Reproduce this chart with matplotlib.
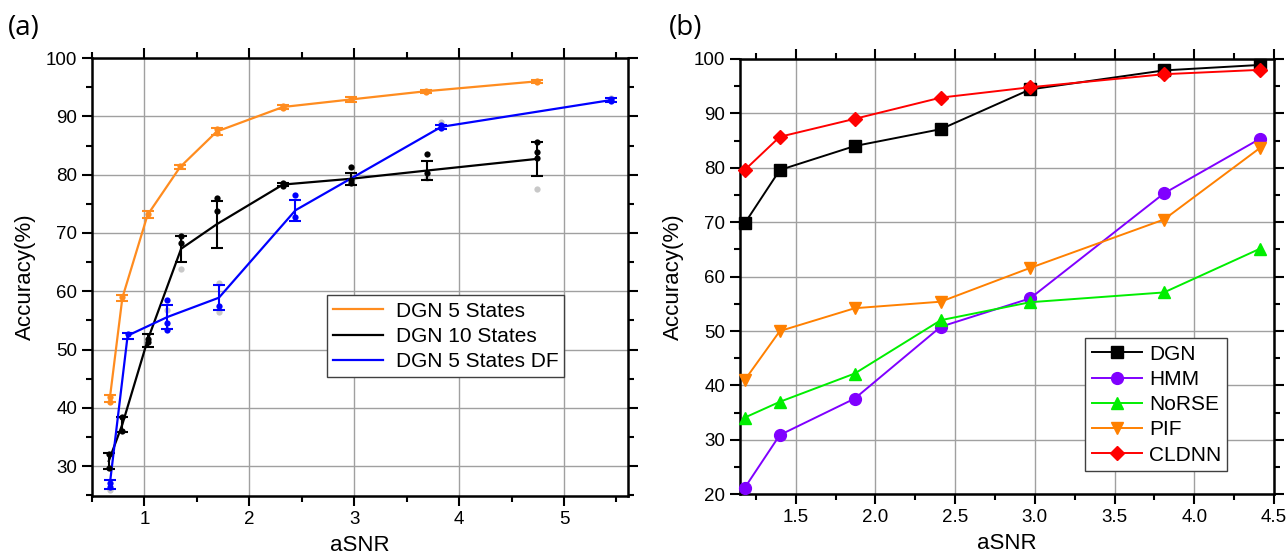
import numpy as np
import matplotlib.pyplot as plt
from matplotlib.ticker import MultipleLocator, FormatStrFormatter

plt.rcParams['font.family'] = ['Liberation Sans', 'DejaVu Sans']

# ---- panel (a): DGN variants, mean + error bars + individual runs ----
snr_5 = [0.67, 0.79, 1.03, 1.34, 1.69, 2.32, 2.97, 3.68, 4.74]
acc_5 = [41.6, 58.9, 73.1, 81.3, 87.4, 91.6, 92.9, 94.3, 96.0]
err_5 = [0.6, 0.5, 0.6, 0.4, 0.6, 0.4, 0.4, 0.3, 0.3]
runs_5 = [[41.9, 41.0], [59.0], [73.3], [81.4], [87.9, 87.2],
          [91.8, 91.4], [92.9], [94.4, 94.1], [96.1, 95.9]]
faded_5 = [[], [], [], [], [], [], [], [], []]

snr_10 = [0.66, 0.79, 1.03, 1.35, 1.69, 2.32, 2.97, 3.69, 4.74]
acc_10 = [30.9, 37.2, 51.6, 67.3, 71.5, 78.3, 79.3, 80.7, 82.7]
err_10 = [1.35, 1.3, 1.1, 2.2, 4.0, 0.3, 1.0, 1.7, 2.9]
runs_10 = [[32.1, 29.7], [38.4, 36.0], [51.3, 51.9], [69.4, 68.2],
           [76.0, 73.8], [78.6, 78.1], [81.3, 78.5, 79.0], [83.5, 80.2],
           [85.6, 83.9, 82.9]]
faded_10 = [[], [], [], [63.9], [], [], [], [79.4], [77.6]]

snr_df = [0.67, 0.84, 1.22, 1.71, 2.44, 3.83, 5.45]
acc_df = [26.9, 52.4, 55.6, 58.9, 73.9, 88.2, 92.8]
err_df = [0.8, 0.5, 2.0, 2.1, 1.8, 0.4, 0.3]
runs_df = [[27.1, 26.5], [52.6], [58.5, 54.6, 53.4], [57.5],
           [76.5, 72.8], [88.5, 88.0], [92.9, 92.6]]
faded_df = [[26.0], [], [56.8], [56.5, 61.5], [], [89.0], [93.2]]

# ---- panel (b): method comparison ----
snr_b = [1.18, 1.40, 1.87, 2.41, 2.97, 3.81, 4.41]
dgn = [69.8, 79.6, 84.0, 87.1, 94.4, 97.9, 98.9]
hmm = [21.2, 30.9, 37.6, 50.8, 56.0, 75.3, 85.3]
norse = [34.1, 37.0, 42.2, 52.0, 55.3, 57.1, 65.1]
pif = [41.0, 50.0, 54.2, 55.4, 61.6, 70.5, 83.6]
cldnn = [79.6, 85.7, 89.0, 92.9, 94.8, 97.2, 98.0]

orange_a = '#ff8c1f'


def style_axes(ax):
    for s in ax.spines.values():
        s.set_linewidth(1.8)
    ax.tick_params(which='both', direction='out', top=True, right=True,
                   labeltop=False, labelright=False, width=1.5, labelsize=13.5)
    ax.tick_params(which='major', length=7)
    ax.tick_params(which='minor', length=4)
    ax.grid(True, which='major', color='#a0a0a0', linewidth=1)
    ax.set_axisbelow(True)
    ax.set_xlabel('aSNR', fontsize=16, labelpad=5)
    ax.set_ylabel('Accuracy(%)', fontsize=16, labelpad=7)


fig = plt.figure(figsize=(12.88, 5.59), dpi=100)
ax1 = fig.add_axes([0.0714, 0.1127, 0.4162, 0.7835])
ax2 = fig.add_axes([0.5745, 0.1157, 0.4146, 0.7788])

series_a = [
    (snr_5, acc_5, err_5, runs_5, faded_5, orange_a, 'DGN 5 States'),
    (snr_10, acc_10, err_10, runs_10, faded_10, 'black', 'DGN 10 States'),
    (snr_df, acc_df, err_df, runs_df, faded_df, '#0000ff', 'DGN 5 States DF'),
]
for x, y, e, runs, faded, c, lab in series_a:
    ax1.plot(x, y, color=c, lw=1.6, label=lab, zorder=3)
    ax1.errorbar(x, y, yerr=e, fmt='none', ecolor=c, elinewidth=1.5,
                 capsize=4, capthick=1.5, zorder=3)
    for xi, r in zip(x, runs):
        ax1.plot([xi] * len(r), r, 'o', color=c, ms=4.5, mew=0, zorder=4)
    for xi, r in zip(x, faded):
        ax1.plot([xi] * len(r), r, 'o', color='#c8c8c8', ms=4.5, mew=0,
                 zorder=2)

ax1.set_xlim(0.5, 5.61)
ax1.set_ylim(24.9, 100)
ax1.xaxis.set_major_locator(MultipleLocator(1))
ax1.xaxis.set_minor_locator(MultipleLocator(0.5))
ax1.yaxis.set_major_locator(MultipleLocator(10))
ax1.yaxis.set_minor_locator(MultipleLocator(5))
style_axes(ax1)
leg1 = ax1.legend(loc='lower left', bbox_to_anchor=(0.438, 0.271),
                  borderaxespad=0, fontsize=15, handlelength=2.4,
                  fancybox=False, framealpha=1, edgecolor='#404040',
                  labelspacing=0.3, borderpad=0.3, handletextpad=0.6)
leg1.get_frame().set_linewidth(1.0)

series_b = [
    (dgn, 'black', 's', 'DGN'),
    (hmm, '#8000ff', 'o', 'HMM'),
    (norse, '#00ee00', '^', 'NoRSE'),
    (pif, '#ff8000', 'v', 'PIF'),
    (cldnn, '#ff0000', 'D', 'CLDNN'),
]
for y, c, m, lab in series_b:
    ms = 7.5 if m == 'D' else 8.5
    ax2.plot(snr_b, y, color=c, marker=m, ms=ms, lw=1.4, label=lab,
             zorder=3, clip_on=False)

ax2.set_xlim(1.15, 4.5)
ax2.set_ylim(20, 100)
ax2.xaxis.set_major_locator(MultipleLocator(0.5))
ax2.xaxis.set_minor_locator(MultipleLocator(0.25))
ax2.xaxis.set_major_formatter(FormatStrFormatter('%.1f'))
ax2.yaxis.set_major_locator(MultipleLocator(10))
ax2.yaxis.set_minor_locator(MultipleLocator(5))
style_axes(ax2)
leg2 = ax2.legend(loc='lower left', bbox_to_anchor=(0.647, 0.054),
                  borderaxespad=0, fontsize=15, handlelength=2.4,
                  fancybox=False, framealpha=1, edgecolor='#404040',
                  labelspacing=0.3, borderpad=0.3, handletextpad=0.35)
leg2.get_frame().set_linewidth(1.0)

fig.text(0.006, 0.95, '(a)', fontsize=20, family=['Open Sans', 'DejaVu Sans'],
         va='center')
fig.text(0.519, 0.95, '(b)', fontsize=20, family=['Open Sans', 'DejaVu Sans'],
         va='center')

fig.savefig('out.png', dpi=100)
